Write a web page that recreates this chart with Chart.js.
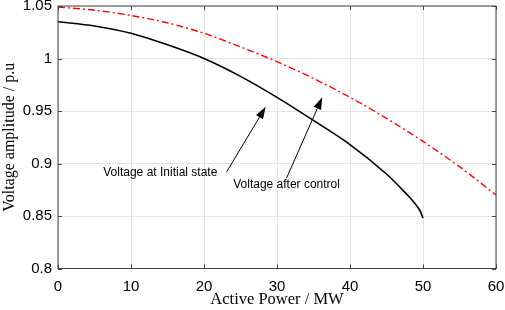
<!DOCTYPE html>
<html>
<head>
<meta charset="utf-8">
<script src="https://cdn.jsdelivr.net/npm/chart.js@4/dist/chart.umd.min.js"></script>
<style>
  html, body { margin: 0; padding: 0; background: #fff; }
  #wrap { width: 505px; height: 310px; }
</style>
</head>
<body>
<div id="wrap"><canvas id="pvChart" width="505" height="310"></canvas></div>
<script>
    // values
    const initialP = [0, 5, 10, 15, 20, 25, 30, 35, 40, 45, 48, 49, 49.6, 50];
    const initialV = [1.035, 1.031, 1.024, 1.013, 1.000, 0.983, 0.963, 0.941, 0.918, 0.890, 0.869, 0.861, 0.855, 0.848];

    const controlP = [0, 5, 10, 15, 20, 25, 30, 35, 40, 45, 50, 55, 60];
    const controlV = [1.049, 1.046, 1.041, 1.034, 1.024, 1.011, 0.997, 0.981, 0.963, 0.943, 0.921, 0.897, 0.870];

    const xTicks = [0, 10, 20, 30, 40, 50, 60];
    const yTickLabels = ['0.8', '0.85', '0.9', '0.95', '1', '1.05'];

    // annotation: text, text position, arrow tail, arrow tip (data units)
    const notes = [
        { text: 'Voltage at Initial state', at: [6.2, 0.891], from: [23.1, 0.892], to: [28.45, 0.954] },
        { text: 'Voltage after control', at: [24.0, 0.8795], from: [31.3, 0.886], to: [36.2, 0.963] }
    ];

    const toPts = (xs, ys) => xs.map((x, i) => ({ x: x, y: ys[i] }));

    const boxPlugin = {
        id: 'boxPlugin',
        afterDraw(chart) {
            const ctx = chart.ctx;
            const a = chart.chartArea;
            const xs = chart.scales.x, ys = chart.scales.y;
            ctx.save();
            ctx.strokeStyle = '#444';
            ctx.lineWidth = 1;
            ctx.strokeRect(a.left, a.top, a.right - a.left, a.bottom - a.top);
            ctx.beginPath();
            xTicks.forEach(v => {
                const px = Math.round(xs.getPixelForValue(v)) + 0.5;
                ctx.moveTo(px, a.bottom); ctx.lineTo(px, a.bottom - 4);
                ctx.moveTo(px, a.top); ctx.lineTo(px, a.top + 4);
            });
            yTickLabels.forEach(t => {
                const py = Math.round(ys.getPixelForValue(parseFloat(t))) + 0.5;
                ctx.moveTo(a.left, py); ctx.lineTo(a.left + 4, py);
                ctx.moveTo(a.right, py); ctx.lineTo(a.right - 4, py);
            });
            ctx.stroke();

            // arrows and labels
            ctx.fillStyle = '#000';
            ctx.strokeStyle = '#000';
            ctx.font = '12px "Liberation Sans", Arial, sans-serif';
            ctx.textBaseline = 'middle';
            notes.forEach(n => {
                ctx.fillText(n.text, xs.getPixelForValue(n.at[0]), ys.getPixelForValue(n.at[1]));
                const x1 = xs.getPixelForValue(n.from[0]), y1 = ys.getPixelForValue(n.from[1]);
                const x2 = xs.getPixelForValue(n.to[0]), y2 = ys.getPixelForValue(n.to[1]);
                const ang = Math.atan2(y2 - y1, x2 - x1);
                const len = 12, half = 4;
                const bx = x2 - len * Math.cos(ang), by = y2 - len * Math.sin(ang);
                ctx.beginPath();
                ctx.moveTo(x1, y1); ctx.lineTo(bx, by);
                ctx.lineWidth = 1;
                ctx.stroke();
                ctx.beginPath();
                ctx.moveTo(x2, y2);
                ctx.lineTo(bx + half * Math.sin(ang), by - half * Math.cos(ang));
                ctx.lineTo(bx - half * Math.sin(ang), by + half * Math.cos(ang));
                ctx.closePath();
                ctx.fill();
            });
            ctx.restore();
        }
    };

    new Chart(document.getElementById('pvChart').getContext('2d'), {
        type: 'scatter',
        data: {
            datasets: [{
                label: 'Voltage at Initial state',
                data: toPts(initialP, initialV),
                showLine: true,
                borderColor: '#000',
                borderWidth: 1.6,
                pointRadius: 0,
                tension: 0.3
            }, {
                label: 'Voltage after control',
                data: toPts(controlP, controlV),
                showLine: true,
                borderColor: '#ff0000',
                borderWidth: 1.4,
                borderDash: [7, 3, 2, 3],
                pointRadius: 0,
                tension: 0.3
            }]
        },
        options: {
            responsive: false,
            animation: false,
            layout: { padding: { top: 6, right: 9, left: 0, bottom: 0 } },
            plugins: { legend: { display: false }, tooltip: { enabled: false } },
            scales: {
                x: {
                    type: 'linear',
                    min: 0, max: 60,
                    afterBuildTicks: s => { s.ticks = xTicks.map(v => ({ value: v })); },
                    afterFit: s => { s.height = 41.5; s.paddingLeft = 0; s.paddingRight = 0; },
                    grid: { color: '#e4e4e4', drawTicks: false },
                    border: { display: false },
                    ticks: { color: '#000', padding: 9, font: { family: '"Liberation Sans", Arial, sans-serif', size: 15 } },
                    title: {
                        display: true, text: 'Active Power / MW', color: '#000', padding: { top: 0, bottom: 0 },
                        font: { family: '"Liberation Serif", "Times New Roman", serif', size: 16.5 }
                    }
                },
                y: {
                    min: 0.8, max: 1.05,
                    afterBuildTicks: s => { s.ticks = yTickLabels.map(t => ({ value: parseFloat(t) })); },
                    afterFit: s => { s.width = 58; s.paddingTop = 0; s.paddingBottom = 0; },
                    grid: { color: '#e4e4e4', drawTicks: false },
                    border: { display: false },
                    ticks: {
                        color: '#000', padding: 6,
                        font: { family: '"Liberation Sans", Arial, sans-serif', size: 15 },
                        callback: (v, i) => yTickLabels[i]
                    },
                    title: {
                        display: true, text: 'Voltage amplitude / p.u', color: '#000', padding: { top: 0, bottom: 0 },
                        font: { family: '"Liberation Serif", "Times New Roman", serif', size: 16 }
                    }
                }
            }
        },
        plugins: [boxPlugin]
    });
</script>
</body>
</html>
